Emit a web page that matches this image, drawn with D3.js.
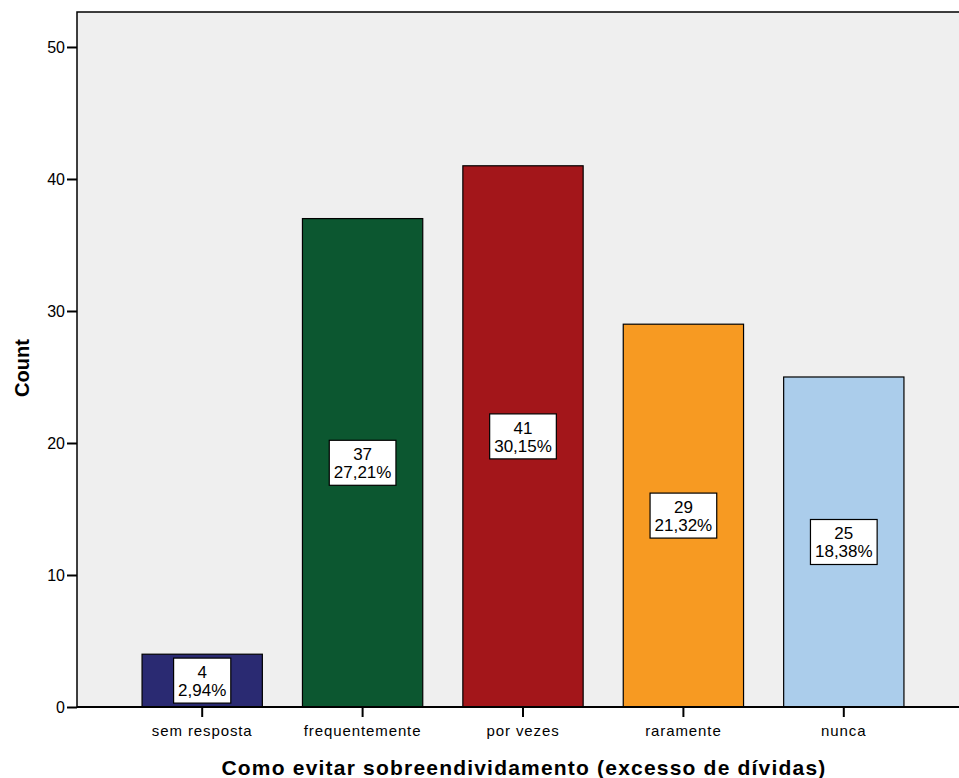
<!DOCTYPE html>
<html><head><meta charset="utf-8">
<script src="https://cdn.jsdelivr.net/npm/d3@7"></script>
<style>body{margin:0;background:#fff}svg{display:block}text{font-family:Arial,"Liberation Sans",sans-serif}</style>
</head><body><svg id="c" width="959" height="778"></svg>
<script>
const categories = ["sem resposta","frequentemente","por vezes","raramente","nunca"];
const counts = [4,37,41,29,25];
const percents = ["2,94%","27,21%","30,15%","21,32%","18,38%"];
const colors = ["#2a2a72","#0c5730","#a3161a","#f79a22","#abcdeb"];
const yTicks = [0,10,20,30,40,50];

const svg = d3.select("#c");
const L = 77, R = 969, T = 12, B = 707;
const x = d3.scaleBand().domain(categories).range([L+45, R-45]).paddingInner(0.25).paddingOuter(0.125);
const y = d3.scaleLinear().domain([0, 52.65]).range([B, T]);

svg.append("rect").attr("x",L).attr("y",T).attr("width",R-L).attr("height",B-T)
  .attr("fill","#efefef").attr("stroke","#000").attr("stroke-width",1.5);

svg.selectAll("rect.bar").data(counts).join("rect").attr("class","bar")
  .attr("x",(d,i)=>x(categories[i])).attr("width",x.bandwidth())
  .attr("y",d=>y(d)).attr("height",d=>B-y(d))
  .attr("fill",(d,i)=>colors[i]).attr("stroke","#000").attr("stroke-width",1.2);

// labels
const lab = svg.selectAll("g.lab").data(counts).join("g").attr("class","lab")
  .attr("transform",(d,i)=>`translate(${x(categories[i])+x.bandwidth()/2},${y(d/2)})`);
lab.each(function(d,i){
  const g = d3.select(this);
  const r = g.append("rect").attr("fill","#fff").attr("stroke","#000").attr("stroke-width",1.2);
  const t1 = g.append("text").attr("text-anchor","middle").attr("y",-2.5).attr("font-size",17).text(d);
  const t2 = g.append("text").attr("text-anchor","middle").attr("y",15.5).attr("font-size",17).text(percents[i]);
  const w = Math.max(t1.node().getComputedTextLength(), t2.node().getComputedTextLength()) + 9;
  r.attr("x",-w/2).attr("y",-22.5).attr("width",w).attr("height",45);
});

// y axis
const ya = svg.append("g").attr("transform",`translate(${L},0)`)
  .call(d3.axisLeft(y).tickValues(yTicks).tickSize(10).tickPadding(2));
ya.select(".domain").remove();
ya.selectAll("line").attr("stroke","#000").attr("stroke-width",2);
ya.selectAll("text").attr("font-size",16).attr("fill","#000").attr("font-family","Arial,'Liberation Sans',sans-serif");

// x axis
const xa = svg.append("g").attr("transform",`translate(0,${B})`)
  .call(d3.axisBottom(x).tickSize(10).tickPadding(8));
xa.select(".domain").remove();
xa.selectAll("line").attr("stroke","#000").attr("stroke-width",2);
xa.selectAll("text").attr("font-size",15).attr("letter-spacing",0.9).attr("fill","#000").attr("font-family","Arial,'Liberation Sans',sans-serif");

svg.append("line").attr("x1",L).attr("x2",R).attr("y1",B).attr("y2",B).attr("stroke","#000").attr("stroke-width",2);

svg.append("text").attr("x",524).attr("y",775).attr("text-anchor","middle")
  .attr("font-size",21).attr("font-weight","bold").attr("letter-spacing",1.2).text("Como evitar sobreendividamento (excesso de dívidas)");
svg.append("text").attr("transform","translate(29,368) rotate(-90)").attr("text-anchor","middle")
  .attr("font-size",20).attr("font-weight","bold").text("Count");
</script></body></html>
